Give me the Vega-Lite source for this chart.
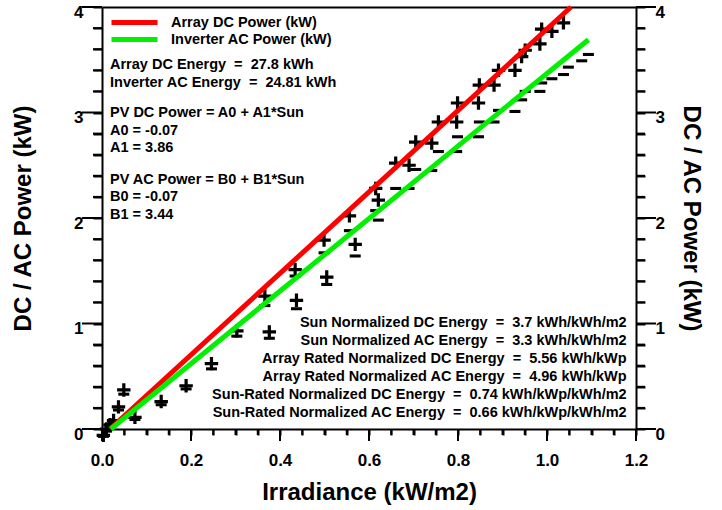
{
  "$schema": "https://vega.github.io/schema/vega-lite/v6.json",
  "width": 534,
  "height": 422,
  "autosize": {"type": "none"},
  "padding": {"left": 102, "top": 7, "right": 86, "bottom": 81},
  "background": "white",
  "config": {
    "font": "Liberation Sans",
    "view": {"stroke": null},
    "axis": {
      "domain": true, "domainColor": "black", "domainWidth": 2,
      "tickColor": "black", "tickWidth": 2,
      "labelColor": "black", "labelFont": "Liberation Sans", "labelFontWeight": "bold", "labelFontSize": 17,
      "titleFont": "Liberation Sans", "titleFontWeight": "bold", "titleFontSize": 24, "titleColor": "black",
      "grid": false, "labelOverlap": false, "labelFlush": false
    },
    "text": {"font": "Liberation Sans", "fontWeight": "bold", "fontSize": 14.5, "color": "black"}
  },
  "datasets": {
    "pts": [
      {"irradiance": 0.003, "dc": -0.06, "ac": -0.07},
      {"irradiance": 0.010, "dc": 0.00, "ac": -0.02},
      {"irradiance": 0.018, "dc": 0.04, "ac": 0.02},
      {"irradiance": 0.026, "dc": 0.08, "ac": 0.05},
      {"irradiance": 0.037, "dc": 0.21, "ac": 0.18},
      {"irradiance": 0.049, "dc": 0.37, "ac": 0.33},
      {"irradiance": 0.074, "dc": 0.11, "ac": 0.09},
      {"irradiance": 0.133, "dc": 0.26, "ac": 0.23},
      {"irradiance": 0.189, "dc": 0.41, "ac": 0.38},
      {"irradiance": 0.246, "dc": 0.62, "ac": 0.57},
      {"irradiance": 0.303, "dc": 0.93, "ac": 0.88},
      {"irradiance": 0.366, "dc": 1.26, "ac": 1.17},
      {"irradiance": 0.376, "dc": 0.92, "ac": 0.86},
      {"irradiance": 0.434, "dc": 1.51, "ac": 1.45},
      {"irradiance": 0.437, "dc": 1.22, "ac": 1.14},
      {"irradiance": 0.499, "dc": 1.79, "ac": 1.67},
      {"irradiance": 0.505, "dc": 1.44, "ac": 1.37},
      {"irradiance": 0.556, "dc": 2.02, "ac": 1.88},
      {"irradiance": 0.569, "dc": 1.75, "ac": 1.64},
      {"irradiance": 0.615, "dc": 2.28, "ac": 2.07},
      {"irradiance": 0.621, "dc": 2.17, "ac": 1.98},
      {"irradiance": 0.660, "dc": 2.52, "ac": 2.28},
      {"irradiance": 0.690, "dc": 2.50, "ac": 2.28},
      {"irradiance": 0.705, "dc": 2.72, "ac": 2.46},
      {"irradiance": 0.741, "dc": 2.71, "ac": 2.45},
      {"irradiance": 0.756, "dc": 2.91, "ac": 2.63},
      {"irradiance": 0.797, "dc": 2.91, "ac": 2.63},
      {"irradiance": 0.799, "dc": 3.09, "ac": 2.77},
      {"irradiance": 0.846, "dc": 3.09, "ac": 2.77},
      {"irradiance": 0.848, "dc": 3.26, "ac": 2.91},
      {"irradiance": 0.881, "dc": 3.26, "ac": 2.91},
      {"irradiance": 0.891, "dc": 3.40, "ac": 3.02},
      {"irradiance": 0.928, "dc": 3.40, "ac": 3.01},
      {"irradiance": 0.943, "dc": 3.53, "ac": 3.12},
      {"irradiance": 0.951, "dc": 3.59, "ac": 3.20},
      {"irradiance": 0.984, "dc": 3.65, "ac": 3.20},
      {"irradiance": 0.988, "dc": 3.79, "ac": 3.28},
      {"irradiance": 1.011, "dc": 3.77, "ac": 3.32},
      {"irradiance": 1.037, "dc": 3.85, "ac": 3.36},
      {"irradiance": 1.048, "dc": null, "ac": 3.43},
      {"irradiance": 1.078, "dc": null, "ac": 3.49},
      {"irradiance": 1.093, "dc": null, "ac": 3.55}
    ],
    "fit": [
      {"series": "Array DC Power (kW)", "irradiance": 0.018, "power": 0.0},
      {"series": "Array DC Power (kW)", "irradiance": 1.054, "power": 4.0},
      {"series": "Inverter AC Power (kW)", "irradiance": 0.020, "power": 0.0},
      {"series": "Inverter AC Power (kW)", "irradiance": 1.093, "power": 3.69}
    ],
    "yticks": [
      {"value": 0, "major": true}, {"value": 0.2, "major": false}, {"value": 0.4, "major": false}, {"value": 0.6, "major": false}, {"value": 0.8, "major": false},
      {"value": 1, "major": true}, {"value": 1.2, "major": false}, {"value": 1.4, "major": false}, {"value": 1.6, "major": false}, {"value": 1.8, "major": false},
      {"value": 2, "major": true}, {"value": 2.2, "major": false}, {"value": 2.4, "major": false}, {"value": 2.6, "major": false}, {"value": 2.8, "major": false},
      {"value": 3, "major": true}, {"value": 3.2, "major": false}, {"value": 3.4, "major": false}, {"value": 3.6, "major": false}, {"value": 3.8, "major": false},
      {"value": 4, "major": true}
    ],
    "xticks": [
      {"value": 0, "major": true}, {"value": 0.05, "major": false}, {"value": 0.1, "major": false}, {"value": 0.15, "major": false},
      {"value": 0.2, "major": true}, {"value": 0.25, "major": false}, {"value": 0.3, "major": false}, {"value": 0.35, "major": false},
      {"value": 0.4, "major": true}, {"value": 0.45, "major": false}, {"value": 0.5, "major": false}, {"value": 0.55, "major": false},
      {"value": 0.6, "major": true}, {"value": 0.65, "major": false}, {"value": 0.7, "major": false}, {"value": 0.75, "major": false},
      {"value": 0.8, "major": true}, {"value": 0.85, "major": false}, {"value": 0.9, "major": false}, {"value": 0.95, "major": false},
      {"value": 1.0, "major": true}, {"value": 1.05, "major": false}, {"value": 1.1, "major": false}, {"value": 1.15, "major": false},
      {"value": 1.2, "major": true}
    ]
  },
  "layer": [
    {
      "data": {"name": "pts"},
      "mark": {"type": "point", "shape": "M-0.24,-1L0.24,-1L0.24,-0.24L1,-0.24L1,0.24L0.24,0.24L0.24,1L-0.24,1L-0.24,0.24L-1,0.24L-1,-0.24L-0.24,-0.24Z", "filled": true, "color": "black", "opacity": 1, "size": 180},
      "encoding": {
        "x": {"field": "irradiance", "type": "quantitative", "scale": {"domain": [0, 1.2], "nice": false, "zero": false},
          "axis": {"orient": "bottom", "title": "Irradiance (kW/m2)",
            "values": [0,0.05,0.1,0.15,0.2,0.25,0.3,0.35,0.4,0.45,0.5,0.55,0.6,0.65,0.7,0.75,0.8,0.85,0.9,0.95,1,1.05,1.1,1.15,1.2],
            "tickSize": 6, "tickColor": "black", "tickWidth": 2,
            "encode": {"ticks": {"update": {"y2": {"signal": "abs(datum.value*5 - round(datum.value*5)) < 0.001 ? 12 : 6"}}}},
            "labelExpr": "abs(datum.value*5 - round(datum.value*5)) < 0.001 ? format(datum.value, '.1f') : ''",
            "labelPadding": 17, "titlePadding": 12}},
        "y": {"field": "dc", "type": "quantitative", "scale": {"domain": [0, 4], "nice": false, "zero": false},
          "axis": {"orient": "left", "title": "DC / AC Power (kW)",
            "values": [0,0.2,0.4,0.6,0.8,1,1.2,1.4,1.6,1.8,2,2.2,2.4,2.6,2.8,3,3.2,3.4,3.6,3.8,4],
            "tickSize": 9, "tickColor": "black", "tickWidth": 2,
            "encode": {"ticks": {"update": {"x2": {"signal": "abs(datum.value - round(datum.value)) < 0.001 ? -20 : -9"}}}},
            "labelExpr": "abs(datum.value - round(datum.value)) < 0.001 ? format(datum.value, 'd') : ''",
            "labelPadding": 10, "labelOffset": 5, "titlePadding": 38}}
      }
    },
    {
      "data": {"name": "pts"},
      "mark": {"type": "point", "shape": "M-1,-0.28L1,-0.28L1,0.28L-1,0.28Z", "filled": true, "color": "black", "opacity": 1, "size": 121},
      "encoding": {
        "x": {"field": "irradiance", "type": "quantitative", "scale": {"domain": [0, 1.2], "nice": false, "zero": false},
          "axis": {"orient": "top", "title": null, "ticks": false, "labels": false, "domain": true}},
        "y": {"field": "ac", "type": "quantitative", "scale": {"domain": [0, 4], "nice": false, "zero": false},
          "axis": {"orient": "right", "title": "DC / AC Power (kW)",
            "values": [0,0.2,0.4,0.6,0.8,1,1.2,1.4,1.6,1.8,2,2.2,2.4,2.6,2.8,3,3.2,3.4,3.6,3.8,4],
            "tickSize": 9, "tickColor": "black", "tickWidth": 2,
            "encode": {"ticks": {"update": {"x2": {"signal": "abs(datum.value - round(datum.value)) < 0.001 ? 20 : 9"}}}},
            "labelExpr": "abs(datum.value - round(datum.value)) < 0.001 ? format(datum.value, 'd') : ''",
            "labelPadding": 10, "labelOffset": 5, "titlePadding": 14}}
      }
    },
    {
      "data": {"name": "fit"},
      "mark": {"type": "line", "strokeWidth": 5, "strokeCap": "butt"},
      "encoding": {
        "x": {"field": "irradiance", "type": "quantitative", "scale": {"domain": [0, 1.2], "nice": false, "zero": false}, "axis": null},
        "y": {"field": "power", "type": "quantitative", "scale": {"domain": [0, 4], "nice": false, "zero": false}, "axis": null},
        "color": {"field": "series", "type": "nominal",
          "scale": {"domain": ["Array DC Power (kW)", "Inverter AC Power (kW)"], "range": ["#ff0000", "#00f000"]},
          "legend": {"orient": "top-left", "title": null, "symbolType": "stroke", "symbolStrokeWidth": 5, "symbolSize": 2116,
            "clipHeight": 17, "labelFontSize": 14.5, "labelFontWeight": "bold", "labelFont": "Liberation Sans", "labelColor": "black",
            "labelLimit": 400, "padding": 0, "offset": 7, "labelOffset": 11, "rowPadding": 0, "symbolOpacity": 1}}
      }
    },
    {
      "data": {"name": "yticks"},
      "transform": [{"filter": "datum.major"}],
      "mark": {"type": "tick", "orient": "horizontal", "color": "black", "opacity": 1, "thickness": 2, "size": 20},
      "encoding": {
        "y": {"field": "value", "type": "quantitative", "scale": {"domain": [0, 4], "nice": false, "zero": false}, "axis": null},
        "x": {"datum": -0.02247, "type": "quantitative", "scale": {"domain": [0, 1.2], "nice": false, "zero": false}, "axis": null}
      }
    },
    {
      "data": {"name": "yticks"},
      "transform": [{"filter": "!datum.major"}],
      "mark": {"type": "tick", "orient": "horizontal", "color": "black", "opacity": 1, "thickness": 2, "size": 9},
      "encoding": {
        "y": {"field": "value", "type": "quantitative", "scale": {"domain": [0, 4], "nice": false, "zero": false}, "axis": null},
        "x": {"datum": -0.01011, "type": "quantitative", "scale": {"domain": [0, 1.2], "nice": false, "zero": false}, "axis": null}
      }
    },
    {
      "data": {"name": "yticks"},
      "transform": [{"filter": "datum.major"}],
      "mark": {"type": "tick", "orient": "horizontal", "color": "black", "opacity": 1, "thickness": 2, "size": 20},
      "encoding": {
        "y": {"field": "value", "type": "quantitative", "scale": {"domain": [0, 4], "nice": false, "zero": false}, "axis": null},
        "x": {"datum": 1.22247, "type": "quantitative", "scale": {"domain": [0, 1.2], "nice": false, "zero": false}, "axis": null}
      }
    },
    {
      "data": {"name": "yticks"},
      "transform": [{"filter": "!datum.major"}],
      "mark": {"type": "tick", "orient": "horizontal", "color": "black", "opacity": 1, "thickness": 2, "size": 9},
      "encoding": {
        "y": {"field": "value", "type": "quantitative", "scale": {"domain": [0, 4], "nice": false, "zero": false}, "axis": null},
        "x": {"datum": 1.21011, "type": "quantitative", "scale": {"domain": [0, 1.2], "nice": false, "zero": false}, "axis": null}
      }
    },
    {
      "data": {"name": "xticks"},
      "transform": [{"filter": "datum.major"}],
      "mark": {"type": "tick", "orient": "vertical", "color": "black", "opacity": 1, "thickness": 2, "size": 12},
      "encoding": {
        "x": {"field": "value", "type": "quantitative", "scale": {"domain": [0, 1.2], "nice": false, "zero": false}, "axis": null},
        "y": {"datum": -0.05687, "type": "quantitative", "scale": {"domain": [0, 4], "nice": false, "zero": false}, "axis": null}
      }
    },
    {
      "data": {"name": "xticks"},
      "transform": [{"filter": "!datum.major"}],
      "mark": {"type": "tick", "orient": "vertical", "color": "black", "opacity": 1, "thickness": 2, "size": 6},
      "encoding": {
        "x": {"field": "value", "type": "quantitative", "scale": {"domain": [0, 1.2], "nice": false, "zero": false}, "axis": null},
        "y": {"datum": -0.02844, "type": "quantitative", "scale": {"domain": [0, 4], "nice": false, "zero": false}, "axis": null}
      }
    },
    {
      "data": {"values": [{"note": "energy"}]},
      "mark": {"type": "text", "align": "left", "baseline": "alphabetic", "lineHeight": 17.5,
        "text": ["Array DC Energy \u00a0=\u00a0 27.8 kWh", "Inverter AC Energy \u00a0=\u00a0 24.81 kWh"]},
      "encoding": {
        "x": {"datum": 0.018, "type": "quantitative", "scale": {"domain": [0, 1.2], "nice": false, "zero": false}, "axis": null},
        "y": {"datum": 3.41, "type": "quantitative", "scale": {"domain": [0, 4], "nice": false, "zero": false}, "axis": null}
      }
    },
    {
      "data": {"values": [{"note": "dc fit"}]},
      "mark": {"type": "text", "align": "left", "baseline": "alphabetic", "lineHeight": 17.5,
        "text": ["PV DC Power = A0 + A1*Sun", "A0 = -0.07", "A1 = 3.86"]},
      "encoding": {
        "x": {"datum": 0.018, "type": "quantitative", "scale": {"domain": [0, 1.2], "nice": false, "zero": false}, "axis": null},
        "y": {"datum": 2.953, "type": "quantitative", "scale": {"domain": [0, 4], "nice": false, "zero": false}, "axis": null}
      }
    },
    {
      "data": {"values": [{"note": "ac fit"}]},
      "mark": {"type": "text", "align": "left", "baseline": "alphabetic", "lineHeight": 17.5,
        "text": ["PV AC Power = B0 + B1*Sun", "B0 = -0.07", "B1 = 3.44"]},
      "encoding": {
        "x": {"datum": 0.018, "type": "quantitative", "scale": {"domain": [0, 1.2], "nice": false, "zero": false}, "axis": null},
        "y": {"datum": 2.327, "type": "quantitative", "scale": {"domain": [0, 4], "nice": false, "zero": false}, "axis": null}
      }
    },
    {
      "data": {"values": [{"note": "normalized"}]},
      "mark": {"type": "text", "align": "right", "baseline": "alphabetic", "lineHeight": 18.1,
        "text": [
          "Sun Normalized DC Energy \u00a0=\u00a0 3.7 kWh/kWh/m2",
          "Sun Normalized AC Energy \u00a0=\u00a0 3.3 kWh/kWh/m2",
          "Array Rated Normalized DC Energy \u00a0=\u00a0 5.56 kWh/kWp",
          "Array Rated Normalized AC Energy \u00a0=\u00a0 4.96 kWh/kWp",
          "Sun-Rated Normalized DC Energy \u00a0=\u00a0 0.74 kWh/kWp/kWh/m2",
          "Sun-Rated Normalized AC Energy \u00a0=\u00a0 0.66 kWh/kWp/kWh/m2"
        ]},
      "encoding": {
        "x": {"datum": 1.179, "type": "quantitative", "scale": {"domain": [0, 1.2], "nice": false, "zero": false}, "axis": null},
        "y": {"datum": 0.968, "type": "quantitative", "scale": {"domain": [0, 4], "nice": false, "zero": false}, "axis": null}
      }
    }
  ],
  "resolve": {"axis": {"x": "independent", "y": "independent"}}
}
